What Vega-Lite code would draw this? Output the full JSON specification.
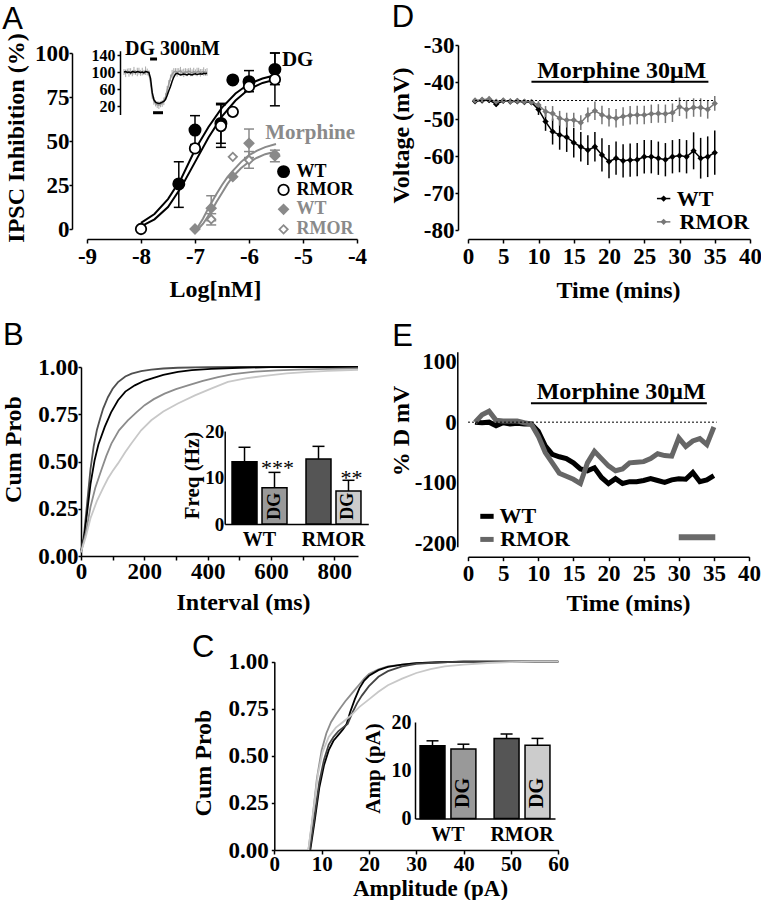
{
"$schema": "https://vega.github.io/schema/vega-lite/v6.json",
"width": 761, "height": 900, "autosize": "none", "padding": 0, "background": "white",
"config": {
 "view": {"stroke": null},
 "axis": {"grid": false, "domainColor": "#000", "domainWidth": 1.5, "tickColor": "#000", "tickWidth": 1.5, "tickSize": 4, "labelColor": "#000", "titleColor": "#000", "labelFont": "Liberation Serif", "labelFontWeight": "bold", "labelFontSize": 23, "titleFont": "Liberation Serif", "titleFontWeight": "bold", "titleFontSize": 24, "labelFlush": false, "labelOverlap": false, "labelPadding": 2, "titleBaseline": "middle", "titleAlign": "center"},
 "text": {"font": "Liberation Serif", "fontWeight": "bold", "fontSize": 22, "color": "#000"}
},
"datasets": {
 "letters": [{"panel":"A","x":-10.57,"y":113.6},{"panel":"D","x":-10.8,"y":-25.1},{"panel":"B","x":-246,"y":1.115},{"panel":"E","x":-10.8,"y":124.6},{"panel":"C","x":-17.4,"y":1.025}],
 "aFit": [
  {"x":-8,"y":3.5,"curve":"WTdg"},{"x":-7.75,"y":8.5,"curve":"WTdg"},{"x":-7.5,"y":17,"curve":"WTdg"},{"x":-7.25,"y":29,"curve":"WTdg"},{"x":-7,"y":45,"curve":"WTdg"},{"x":-6.75,"y":58,"curve":"WTdg"},{"x":-6.5,"y":69,"curve":"WTdg"},{"x":-6.25,"y":77,"curve":"WTdg"},{"x":-6,"y":82.5,"curve":"WTdg"},{"x":-5.75,"y":85.5,"curve":"WTdg"},{"x":-5.5,"y":87.5,"curve":"WTdg"},
  {"x":-8,"y":1.5,"curve":"RMORdg"},{"x":-7.75,"y":5.5,"curve":"RMORdg"},{"x":-7.5,"y":12.5,"curve":"RMORdg"},{"x":-7.25,"y":24,"curve":"RMORdg"},{"x":-7,"y":38,"curve":"RMORdg"},{"x":-6.75,"y":52,"curve":"RMORdg"},{"x":-6.5,"y":64,"curve":"RMORdg"},{"x":-6.25,"y":73,"curve":"RMORdg"},{"x":-6,"y":79.5,"curve":"RMORdg"},{"x":-5.75,"y":83,"curve":"RMORdg"},{"x":-5.5,"y":85,"curve":"RMORdg"},
  {"x":-6.97,"y":0,"curve":"WTmo"},{"x":-6.85,"y":6,"curve":"WTmo"},{"x":-6.75,"y":12,"curve":"WTmo"},{"x":-6.6,"y":20,"curve":"WTmo"},{"x":-6.5,"y":25,"curve":"WTmo"},{"x":-6.4,"y":29.5,"curve":"WTmo"},{"x":-6.3,"y":33,"curve":"WTmo"},{"x":-6.15,"y":38,"curve":"WTmo"},{"x":-6,"y":42,"curve":"WTmo"},{"x":-5.85,"y":44.5,"curve":"WTmo"},{"x":-5.7,"y":46.5,"curve":"WTmo"},{"x":-5.5,"y":48.3,"curve":"WTmo"},
  {"x":-6.97,"y":-1,"curve":"RMORmo"},{"x":-6.85,"y":3,"curve":"RMORmo"},{"x":-6.72,"y":9,"curve":"RMORmo"},{"x":-6.6,"y":15.5,"curve":"RMORmo"},{"x":-6.5,"y":20.5,"curve":"RMORmo"},{"x":-6.4,"y":25.5,"curve":"RMORmo"},{"x":-6.3,"y":29.7,"curve":"RMORmo"},{"x":-6.15,"y":34.5,"curve":"RMORmo"},{"x":-6,"y":38.2,"curve":"RMORmo"},{"x":-5.85,"y":40.5,"curve":"RMORmo"},{"x":-5.7,"y":42.5,"curve":"RMORmo"},{"x":-5.5,"y":44,"curve":"RMORmo"}
 ],
 "aPts": [
  {"x":-7.3,"y":25.6,"grp":"WTdg"},{"x":-7,"y":56.2,"grp":"WTdg"},{"x":-6.52,"y":60,"grp":"WTdg"},{"x":-6.3,"y":84.7,"grp":"WTdg"},{"x":-6,"y":83.7,"grp":"WTdg"},{"x":-5.52,"y":90.7,"grp":"WTdg"},{"x":-5.36,"y":32.6,"grp":"WTdg"},
  {"x":-8,"y":0,"grp":"RMORdg"},{"x":-7,"y":45.8,"grp":"RMORdg"},{"x":-6.52,"y":58.5,"grp":"RMORdg"},{"x":-6.3,"y":66.6,"grp":"RMORdg"},{"x":-6,"y":80.9,"grp":"RMORdg"},{"x":-5.52,"y":85,"grp":"RMORdg"},{"x":-5.36,"y":22.2,"grp":"RMORdg"},
  {"x":-7,"y":0,"grp":"WTmo"},{"x":-6.7,"y":11.8,"grp":"WTmo"},{"x":-6.3,"y":29.7,"grp":"WTmo"},{"x":-6,"y":48.7,"grp":"WTmo"},{"x":-5.52,"y":41.5,"grp":"WTmo"},{"x":-5.36,"y":11.2,"grp":"WTmo"},
  {"x":-6.7,"y":5.5,"grp":"RMORmo"},{"x":-6.3,"y":41,"grp":"RMORmo"},{"x":-6,"y":39.2,"grp":"RMORmo"},{"x":-5.52,"y":42.5,"grp":"RMORmo"},{"x":-5.36,"y":-0.2,"grp":"RMORmo"}
 ],
 "aErr": [
  {"x":-7.3,"lo":12.3,"hi":38.2,"grp":"WTdg"},{"x":-7,"lo":48,"hi":64.4,"grp":"WTdg"},{"x":-6.52,"lo":48.7,"hi":71.4,"grp":"WTdg"},{"x":-6.52,"lo":46.4,"hi":70.6,"grp":"RMORdg"},{"x":-6,"lo":78,"hi":90,"grp":"WTdg"},{"x":-5.52,"lo":82,"hi":100,"grp":"WTdg"},{"x":-5.52,"lo":70,"hi":100,"grp":"RMORdg"},
  {"x":-6.7,"lo":4.7,"hi":18.9,"grp":"WTmo"},{"x":-6.7,"lo":2.3,"hi":8.7,"grp":"RMORmo"},{"x":-6,"lo":40.6,"hi":56.8,"grp":"WTmo"},{"x":-6,"lo":34.5,"hi":44,"grp":"RMORmo"},{"x":-5.52,"lo":38.2,"hi":44.8,"grp":"WTmo"}
 ],
 "aTxt": [
  {"x":-5.39,"y":96,"t":"DG","grp":"WTdg","kind":"lab"},{"x":-5.7,"y":54.5,"t":"Morphine","grp":"WTmo","kind":"lab"},{"x":-5.12,"y":32.6,"t":"WT","grp":"WTdg","kind":"leg"},{"x":-5.12,"y":22.2,"t":"RMOR","grp":"RMORdg","kind":"leg"},{"x":-5.12,"y":11.2,"t":"WT","grp":"WTmo","kind":"leg"},{"x":-5.12,"y":-0.2,"t":"RMOR","grp":"RMORmo","kind":"leg"}
 ],
 "aTrace": [
  {"t":0,"v":100,"e":7,"s":"g"},{"t":1,"v":97,"e":9,"s":"g"},{"t":2,"v":102,"e":6,"s":"g"},{"t":3,"v":99,"e":10,"s":"g"},{"t":4,"v":101,"e":8,"s":"g"},{"t":5,"v":97,"e":7,"s":"g"},{"t":6,"v":103,"e":9,"s":"g"},{"t":7,"v":99,"e":6,"s":"g"},{"t":8,"v":100,"e":10,"s":"g"},{"t":9,"v":102,"e":8,"s":"g"},{"t":10,"v":98,"e":7,"s":"g"},{"t":11,"v":101,"e":9,"s":"g"},{"t":12,"v":99,"e":6,"s":"g"},{"t":13,"v":103,"e":10,"s":"g"},{"t":14,"v":100,"e":8,"s":"g"},{"t":15,"v":97,"e":7,"s":"g"},{"t":16,"v":75,"e":9,"s":"g"},{"t":17,"v":45,"e":8,"s":"g"},{"t":18,"v":32,"e":9,"s":"g"},{"t":19,"v":26,"e":7,"s":"g"},{"t":20,"v":23,"e":8,"s":"g"},{"t":21,"v":22,"e":9,"s":"g"},{"t":22,"v":24,"e":7,"s":"g"},{"t":23,"v":26,"e":8,"s":"g"},{"t":24,"v":31,"e":9,"s":"g"},{"t":25,"v":42,"e":8,"s":"g"},{"t":26,"v":57,"e":10,"s":"g"},{"t":27,"v":72,"e":9,"s":"g"},{"t":28,"v":86,"e":8,"s":"g"},{"t":29,"v":95,"e":10,"s":"g"},{"t":30,"v":100,"e":9,"s":"g"},{"t":31,"v":102,"e":7,"s":"g"},{"t":32,"v":99,"e":10,"s":"g"},{"t":33,"v":101,"e":8,"s":"g"},{"t":34,"v":103,"e":9,"s":"g"},{"t":35,"v":99,"e":7,"s":"g"},{"t":36,"v":98,"e":10,"s":"g"},{"t":37,"v":101,"e":8,"s":"g"},{"t":38,"v":99,"e":9,"s":"g"},{"t":39,"v":102,"e":7,"s":"g"},{"t":40,"v":100,"e":10,"s":"g"},{"t":41,"v":98,"e":8,"s":"g"},{"t":42,"v":101,"e":9,"s":"g"},{"t":43,"v":99,"e":7,"s":"g"},{"t":44,"v":100,"e":10,"s":"g"},{"t":45,"v":102,"e":8,"s":"g"},{"t":46,"v":98,"e":9,"s":"g"},{"t":47,"v":100,"e":7,"s":"g"},{"t":48,"v":101,"e":10,"s":"g"},{"t":49,"v":99,"e":8,"s":"g"},{"t":50,"v":100,"e":9,"s":"g"},
  {"t":0,"v":100,"e":0,"s":"k"},{"t":1,"v":101,"e":0,"s":"k"},{"t":2,"v":99,"e":0,"s":"k"},{"t":3,"v":100,"e":0,"s":"k"},{"t":4,"v":98,"e":0,"s":"k"},{"t":5,"v":101,"e":0,"s":"k"},{"t":6,"v":100,"e":0,"s":"k"},{"t":7,"v":99,"e":0,"s":"k"},{"t":8,"v":101,"e":0,"s":"k"},{"t":9,"v":100,"e":0,"s":"k"},{"t":10,"v":99,"e":0,"s":"k"},{"t":11,"v":100,"e":0,"s":"k"},{"t":12,"v":98,"e":0,"s":"k"},{"t":13,"v":101,"e":0,"s":"k"},{"t":14,"v":100,"e":0,"s":"k"},{"t":15,"v":99,"e":0,"s":"k"},{"t":16,"v":85,"e":0,"s":"k"},{"t":17,"v":52,"e":0,"s":"k"},{"t":18,"v":35,"e":0,"s":"k"},{"t":19,"v":29,"e":0,"s":"k"},{"t":20,"v":27,"e":0,"s":"k"},{"t":21,"v":26,"e":0,"s":"k"},{"t":22,"v":27,"e":0,"s":"k"},{"t":23,"v":29,"e":0,"s":"k"},{"t":24,"v":31,"e":0,"s":"k"},{"t":25,"v":35,"e":0,"s":"k"},{"t":26,"v":45,"e":0,"s":"k"},{"t":27,"v":56,"e":0,"s":"k"},{"t":28,"v":66,"e":0,"s":"k"},{"t":29,"v":78,"e":0,"s":"k"},{"t":30,"v":88,"e":0,"s":"k"},{"t":31,"v":95,"e":0,"s":"k"},{"t":32,"v":97,"e":0,"s":"k"},{"t":33,"v":95,"e":0,"s":"k"},{"t":34,"v":93,"e":0,"s":"k"},{"t":35,"v":94,"e":0,"s":"k"},{"t":36,"v":95,"e":0,"s":"k"},{"t":37,"v":94,"e":0,"s":"k"},{"t":38,"v":93,"e":0,"s":"k"},{"t":39,"v":95,"e":0,"s":"k"},{"t":40,"v":94,"e":0,"s":"k"},{"t":41,"v":93,"e":0,"s":"k"},{"t":42,"v":95,"e":0,"s":"k"},{"t":43,"v":96,"e":0,"s":"k"},{"t":44,"v":94,"e":0,"s":"k"},{"t":45,"v":95,"e":0,"s":"k"},{"t":46,"v":96,"e":0,"s":"k"},{"t":47,"v":95,"e":0,"s":"k"},{"t":48,"v":97,"e":0,"s":"k"},{"t":49,"v":96,"e":0,"s":"k"},{"t":50,"v":97,"e":0,"s":"k"}
 ],
 "aBars": [{"x1":15.7,"x2":19.9,"y":130.6},{"x1":17.5,"x2":23.5,"y":4.2}],
 "aInTxt": [{"x":0.6,"y":154,"t":"DG 300nM"}],
 "dPts": [
  {"t":1,"v":-45.2,"e":0.5,"s":"WT"},{"t":2,"v":-45,"e":0.5,"s":"WT"},{"t":3,"v":-44.9,"e":0.6,"s":"WT"},{"t":4,"v":-46,"e":0.6,"s":"WT"},{"t":5,"v":-45.1,"e":0.5,"s":"WT"},{"t":6,"v":-45.3,"e":0.5,"s":"WT"},{"t":7,"v":-45.2,"e":0.5,"s":"WT"},{"t":8,"v":-45.4,"e":0.5,"s":"WT"},{"t":9,"v":-45.5,"e":0.6,"s":"WT"},{"t":10,"v":-47.4,"e":1.5,"s":"WT"},{"t":11,"v":-50.7,"e":2.5,"s":"WT"},{"t":12,"v":-53.4,"e":3.5,"s":"WT"},{"t":13,"v":-54.3,"e":4,"s":"WT"},{"t":14,"v":-54.9,"e":4,"s":"WT"},{"t":15,"v":-56.4,"e":4,"s":"WT"},{"t":16,"v":-57.5,"e":4,"s":"WT"},{"t":17,"v":-58.4,"e":4,"s":"WT"},{"t":18,"v":-57.5,"e":4,"s":"WT"},{"t":19,"v":-59.7,"e":4.5,"s":"WT"},{"t":20,"v":-61.5,"e":4.5,"s":"WT"},{"t":21,"v":-60.6,"e":4.5,"s":"WT"},{"t":22,"v":-61.3,"e":4.5,"s":"WT"},{"t":23,"v":-61.1,"e":4.5,"s":"WT"},{"t":24,"v":-61,"e":4.5,"s":"WT"},{"t":25,"v":-60.2,"e":4.5,"s":"WT"},{"t":26,"v":-60.2,"e":4.5,"s":"WT"},{"t":27,"v":-60.6,"e":4.5,"s":"WT"},{"t":28,"v":-61,"e":4.5,"s":"WT"},{"t":29,"v":-60.2,"e":4.5,"s":"WT"},{"t":30,"v":-59.9,"e":4.5,"s":"WT"},{"t":31,"v":-60.2,"e":4.5,"s":"WT"},{"t":32,"v":-58.6,"e":5,"s":"WT"},{"t":33,"v":-60.6,"e":5.5,"s":"WT"},{"t":34,"v":-60.2,"e":5.5,"s":"WT"},{"t":35,"v":-59.1,"e":6,"s":"WT"},
  {"t":1,"v":-45,"e":0.5,"s":"RMOR"},{"t":2,"v":-44.8,"e":0.5,"s":"RMOR"},{"t":3,"v":-44.6,"e":0.6,"s":"RMOR"},{"t":4,"v":-45.3,"e":0.5,"s":"RMOR"},{"t":5,"v":-45,"e":0.5,"s":"RMOR"},{"t":6,"v":-45.2,"e":0.5,"s":"RMOR"},{"t":7,"v":-45.1,"e":0.5,"s":"RMOR"},{"t":8,"v":-45.3,"e":0.5,"s":"RMOR"},{"t":9,"v":-45.4,"e":0.5,"s":"RMOR"},{"t":10,"v":-46.2,"e":1,"s":"RMOR"},{"t":11,"v":-48,"e":1.5,"s":"RMOR"},{"t":12,"v":-48.5,"e":2,"s":"RMOR"},{"t":13,"v":-49.8,"e":2,"s":"RMOR"},{"t":14,"v":-50.3,"e":2,"s":"RMOR"},{"t":15,"v":-50.3,"e":2,"s":"RMOR"},{"t":16,"v":-51,"e":2,"s":"RMOR"},{"t":17,"v":-48.9,"e":2,"s":"RMOR"},{"t":18,"v":-47.8,"e":2.5,"s":"RMOR"},{"t":19,"v":-48.9,"e":2.5,"s":"RMOR"},{"t":20,"v":-49.5,"e":2.5,"s":"RMOR"},{"t":21,"v":-49.8,"e":2.5,"s":"RMOR"},{"t":22,"v":-49.3,"e":2.5,"s":"RMOR"},{"t":23,"v":-49,"e":2.5,"s":"RMOR"},{"t":24,"v":-48.9,"e":2.5,"s":"RMOR"},{"t":25,"v":-48.9,"e":2.5,"s":"RMOR"},{"t":26,"v":-48.6,"e":2.5,"s":"RMOR"},{"t":27,"v":-48.5,"e":2.5,"s":"RMOR"},{"t":28,"v":-48.6,"e":2.5,"s":"RMOR"},{"t":29,"v":-48.3,"e":2.5,"s":"RMOR"},{"t":30,"v":-46.7,"e":2.5,"s":"RMOR"},{"t":31,"v":-47.4,"e":2.5,"s":"RMOR"},{"t":32,"v":-46.9,"e":2.5,"s":"RMOR"},{"t":33,"v":-46.9,"e":2.5,"s":"RMOR"},{"t":34,"v":-47.4,"e":2.5,"s":"RMOR"},{"t":35,"v":-45.8,"e":2,"s":"RMOR"}
 ],
 "dRules": [{"x1":1,"x2":35,"y":-45,"k":"dot"},{"x1":9.0,"x2":34.1,"y":-39.9,"k":"bar"}],
 "dTxt": [{"x":21.8,"y":-37.0,"t":"Morphine 30μM"}],
 "dLeg": [{"x1":26.8,"x2":28.7,"xm":27.75,"xt":29.6,"y":-71.5,"s":"WT"},{"x1":26.8,"x2":28.7,"xm":27.75,"xt":30.0,"y":-77.8,"s":"RMOR"}],
 "bCdf": [
  {"x":0,"p":0.02,"c":"b1"},{"x":10,"p":0.12,"c":"b1"},{"x":20,"p":0.29,"c":"b1"},{"x":30,"p":0.46,"c":"b1"},{"x":40,"p":0.58,"c":"b1"},{"x":50,"p":0.665,"c":"b1"},{"x":60,"p":0.725,"c":"b1"},{"x":70,"p":0.78,"c":"b1"},{"x":85,"p":0.84,"c":"b1"},{"x":100,"p":0.885,"c":"b1"},{"x":117,"p":0.92,"c":"b1"},{"x":140,"p":0.95,"c":"b1"},{"x":160,"p":0.965,"c":"b1"},{"x":190,"p":0.978,"c":"b1"},{"x":222,"p":0.986,"c":"b1"},{"x":260,"p":0.992,"c":"b1"},{"x":306,"p":0.996,"c":"b1"},{"x":400,"p":0.999,"c":"b1"},{"x":500,"p":1,"c":"b1"},{"x":875,"p":1,"c":"b1"},
  {"x":0,"p":0.02,"c":"b2"},{"x":10,"p":0.1,"c":"b2"},{"x":20,"p":0.24,"c":"b2"},{"x":30,"p":0.38,"c":"b2"},{"x":43,"p":0.507,"c":"b2"},{"x":55,"p":0.59,"c":"b2"},{"x":75,"p":0.683,"c":"b2"},{"x":95,"p":0.76,"c":"b2"},{"x":117,"p":0.824,"c":"b2"},{"x":140,"p":0.87,"c":"b2"},{"x":170,"p":0.903,"c":"b2"},{"x":200,"p":0.927,"c":"b2"},{"x":222,"p":0.939,"c":"b2"},{"x":260,"p":0.958,"c":"b2"},{"x":306,"p":0.974,"c":"b2"},{"x":350,"p":0.983,"c":"b2"},{"x":411,"p":0.99,"c":"b2"},{"x":500,"p":0.996,"c":"b2"},{"x":600,"p":0.999,"c":"b2"},{"x":700,"p":1,"c":"b2"},{"x":875,"p":1,"c":"b2"},
  {"x":0,"p":0.02,"c":"b3"},{"x":15,"p":0.12,"c":"b3"},{"x":30,"p":0.26,"c":"b3"},{"x":45,"p":0.36,"c":"b3"},{"x":64,"p":0.454,"c":"b3"},{"x":80,"p":0.53,"c":"b3"},{"x":96,"p":0.595,"c":"b3"},{"x":120,"p":0.665,"c":"b3"},{"x":148,"p":0.718,"c":"b3"},{"x":175,"p":0.76,"c":"b3"},{"x":201,"p":0.798,"c":"b3"},{"x":230,"p":0.83,"c":"b3"},{"x":264,"p":0.859,"c":"b3"},{"x":300,"p":0.883,"c":"b3"},{"x":338,"p":0.903,"c":"b3"},{"x":385,"p":0.927,"c":"b3"},{"x":433,"p":0.947,"c":"b3"},{"x":480,"p":0.962,"c":"b3"},{"x":550,"p":0.975,"c":"b3"},{"x":620,"p":0.982,"c":"b3"},{"x":684,"p":0.986,"c":"b3"},{"x":780,"p":0.99,"c":"b3"},{"x":875,"p":0.993,"c":"b3"},
  {"x":0,"p":0.02,"c":"b4"},{"x":15,"p":0.1,"c":"b4"},{"x":30,"p":0.2,"c":"b4"},{"x":50,"p":0.29,"c":"b4"},{"x":70,"p":0.36,"c":"b4"},{"x":85,"p":0.41,"c":"b4"},{"x":100,"p":0.45,"c":"b4"},{"x":117,"p":0.49,"c":"b4"},{"x":140,"p":0.55,"c":"b4"},{"x":159,"p":0.595,"c":"b4"},{"x":190,"p":0.665,"c":"b4"},{"x":222,"p":0.718,"c":"b4"},{"x":260,"p":0.765,"c":"b4"},{"x":306,"p":0.807,"c":"b4"},{"x":360,"p":0.85,"c":"b4"},{"x":411,"p":0.886,"c":"b4"},{"x":464,"p":0.921,"c":"b4"},{"x":520,"p":0.94,"c":"b4"},{"x":580,"p":0.953,"c":"b4"},{"x":650,"p":0.966,"c":"b4"},{"x":720,"p":0.974,"c":"b4"},{"x":780,"p":0.979,"c":"b4"},{"x":875,"p":0.985,"c":"b4"}
 ],
 "bBar": [{"g":"WT","tr":"Ctrl","k":"WT","v":13.4,"hi":16.5},{"g":"WT","tr":"DG","k":"WT DG","v":7.8,"hi":11.1},{"g":"RMOR","tr":"Ctrl","k":"RMOR","v":14.0,"hi":16.7},{"g":"RMOR","tr":"DG","k":"RMOR DG","v":7.1,"hi":9.4}],
 "bTxt": [{"g":"WT","tr":"DG","y":12.0,"t":"***","kind":"star"},{"g":"RMOR","tr":"DG","y":9.9,"t":"**","kind":"star"},{"g":"WT","tr":"DG","y":3.8,"t":"DG","kind":"dg"},{"g":"RMOR","tr":"DG","y":3.8,"t":"DG","kind":"dg"}],
 "ePts": [
  {"t":1,"v":0,"s":"WT"},{"t":2,"v":-1,"s":"WT"},{"t":3,"v":0,"s":"WT"},{"t":4,"v":-6,"s":"WT"},{"t":5,"v":-1,"s":"WT"},{"t":6,"v":-3,"s":"WT"},{"t":7,"v":-2,"s":"WT"},{"t":8,"v":-3,"s":"WT"},{"t":9,"v":-3,"s":"WT"},{"t":10,"v":-15,"s":"WT"},{"t":11,"v":-39,"s":"WT"},{"t":12,"v":-53,"s":"WT"},{"t":13,"v":-57,"s":"WT"},{"t":14,"v":-60,"s":"WT"},{"t":15,"v":-67,"s":"WT"},{"t":16,"v":-77,"s":"WT"},{"t":17,"v":-80,"s":"WT"},{"t":18,"v":-75,"s":"WT"},{"t":19,"v":-91,"s":"WT"},{"t":20,"v":-101,"s":"WT"},{"t":21,"v":-93,"s":"WT"},{"t":22,"v":-101,"s":"WT"},{"t":23,"v":-98,"s":"WT"},{"t":24,"v":-98,"s":"WT"},{"t":25,"v":-96,"s":"WT"},{"t":26,"v":-93,"s":"WT"},{"t":27,"v":-96,"s":"WT"},{"t":28,"v":-99,"s":"WT"},{"t":29,"v":-95,"s":"WT"},{"t":30,"v":-93,"s":"WT"},{"t":31,"v":-94,"s":"WT"},{"t":32,"v":-83,"s":"WT"},{"t":33,"v":-98,"s":"WT"},{"t":34,"v":-95,"s":"WT"},{"t":35,"v":-88,"s":"WT"},
  {"t":1,"v":0,"s":"RMOR"},{"t":2,"v":12,"s":"RMOR"},{"t":3,"v":18,"s":"RMOR"},{"t":4,"v":3,"s":"RMOR"},{"t":5,"v":2,"s":"RMOR"},{"t":6,"v":2,"s":"RMOR"},{"t":7,"v":2,"s":"RMOR"},{"t":8,"v":-1,"s":"RMOR"},{"t":9,"v":-3,"s":"RMOR"},{"t":10,"v":-23,"s":"RMOR"},{"t":11,"v":-50,"s":"RMOR"},{"t":12,"v":-67,"s":"RMOR"},{"t":13,"v":-84,"s":"RMOR"},{"t":14,"v":-89,"s":"RMOR"},{"t":15,"v":-94,"s":"RMOR"},{"t":16,"v":-101,"s":"RMOR"},{"t":17,"v":-67,"s":"RMOR"},{"t":18,"v":-48,"s":"RMOR"},{"t":19,"v":-60,"s":"RMOR"},{"t":20,"v":-72,"s":"RMOR"},{"t":21,"v":-80,"s":"RMOR"},{"t":22,"v":-77,"s":"RMOR"},{"t":23,"v":-67,"s":"RMOR"},{"t":24,"v":-66,"s":"RMOR"},{"t":25,"v":-65,"s":"RMOR"},{"t":26,"v":-60,"s":"RMOR"},{"t":27,"v":-52,"s":"RMOR"},{"t":28,"v":-55,"s":"RMOR"},{"t":29,"v":-56,"s":"RMOR"},{"t":30,"v":-26,"s":"RMOR"},{"t":31,"v":-40,"s":"RMOR"},{"t":32,"v":-31,"s":"RMOR"},{"t":33,"v":-27,"s":"RMOR"},{"t":34,"v":-37,"s":"RMOR"},{"t":35,"v":-8,"s":"RMOR"}
 ],
 "eRules": [{"x1":0,"x2":35.4,"y":0,"k":"dot"},{"x1":8.96,"x2":34.0,"y":31.1,"k":"bar"},{"x1":30,"x2":35.2,"y":-189.5,"k":"gray"}],
 "eTxt": [{"x":21.8,"y":50.2,"t":"Morphine 30μM"}],
 "eLeg": [{"x1":1.75,"x2":3.65,"xt":4.5,"y":-155,"s":"WT"},{"x1":1.75,"x2":3.65,"xt":4.6,"y":-193,"s":"RMOR"}],
 "cCdf": [
  {"x":7.2,"p":0,"c":"c1"},{"x":8,"p":0.15,"c":"c1"},{"x":9,"p":0.38,"c":"c1"},{"x":10,"p":0.53,"c":"c1"},{"x":11,"p":0.62,"c":"c1"},{"x":12,"p":0.68,"c":"c1"},{"x":13,"p":0.72,"c":"c1"},{"x":14,"p":0.755,"c":"c1"},{"x":15,"p":0.79,"c":"c1"},{"x":16,"p":0.82,"c":"c1"},{"x":17,"p":0.85,"c":"c1"},{"x":18,"p":0.88,"c":"c1"},{"x":19,"p":0.91,"c":"c1"},{"x":20,"p":0.935,"c":"c1"},{"x":22,"p":0.96,"c":"c1"},{"x":24,"p":0.975,"c":"c1"},{"x":27,"p":0.985,"c":"c1"},{"x":30,"p":0.992,"c":"c1"},{"x":35,"p":0.997,"c":"c1"},{"x":40,"p":1,"c":"c1"},{"x":60,"p":1,"c":"c1"},
  {"x":7.6,"p":0,"c":"c2"},{"x":8.5,"p":0.15,"c":"c2"},{"x":9.5,"p":0.33,"c":"c2"},{"x":10.5,"p":0.45,"c":"c2"},{"x":11.5,"p":0.53,"c":"c2"},{"x":12.5,"p":0.58,"c":"c2"},{"x":13.5,"p":0.61,"c":"c2"},{"x":14.5,"p":0.64,"c":"c2"},{"x":15.3,"p":0.67,"c":"c2"},{"x":16,"p":0.73,"c":"c2"},{"x":17,"p":0.8,"c":"c2"},{"x":18,"p":0.86,"c":"c2"},{"x":19,"p":0.9,"c":"c2"},{"x":20,"p":0.925,"c":"c2"},{"x":22,"p":0.955,"c":"c2"},{"x":24,"p":0.972,"c":"c2"},{"x":27,"p":0.985,"c":"c2"},{"x":30,"p":0.992,"c":"c2"},{"x":35,"p":0.997,"c":"c2"},{"x":40,"p":1,"c":"c2"},{"x":60,"p":1,"c":"c2"},
  {"x":7.5,"p":0,"c":"c3"},{"x":8.5,"p":0.18,"c":"c3"},{"x":9.5,"p":0.36,"c":"c3"},{"x":10.5,"p":0.48,"c":"c3"},{"x":11.5,"p":0.56,"c":"c3"},{"x":12.5,"p":0.6,"c":"c3"},{"x":13.5,"p":0.63,"c":"c3"},{"x":14.5,"p":0.65,"c":"c3"},{"x":15.5,"p":0.67,"c":"c3"},{"x":16.5,"p":0.73,"c":"c3"},{"x":17.5,"p":0.78,"c":"c3"},{"x":18.5,"p":0.82,"c":"c3"},{"x":20,"p":0.87,"c":"c3"},{"x":22,"p":0.92,"c":"c3"},{"x":24,"p":0.95,"c":"c3"},{"x":27,"p":0.975,"c":"c3"},{"x":30,"p":0.988,"c":"c3"},{"x":35,"p":0.996,"c":"c3"},{"x":40,"p":1,"c":"c3"},{"x":60,"p":1,"c":"c3"},
  {"x":7.2,"p":0,"c":"c4"},{"x":8.2,"p":0.2,"c":"c4"},{"x":9.2,"p":0.4,"c":"c4"},{"x":10.2,"p":0.52,"c":"c4"},{"x":11.5,"p":0.6,"c":"c4"},{"x":13,"p":0.65,"c":"c4"},{"x":14.5,"p":0.68,"c":"c4"},{"x":16,"p":0.71,"c":"c4"},{"x":18,"p":0.76,"c":"c4"},{"x":20,"p":0.8,"c":"c4"},{"x":22,"p":0.84,"c":"c4"},{"x":24,"p":0.875,"c":"c4"},{"x":27,"p":0.91,"c":"c4"},{"x":30,"p":0.94,"c":"c4"},{"x":33,"p":0.96,"c":"c4"},{"x":36,"p":0.975,"c":"c4"},{"x":40,"p":0.985,"c":"c4"},{"x":45,"p":0.993,"c":"c4"},{"x":50,"p":0.998,"c":"c4"},{"x":55,"p":1,"c":"c4"},{"x":60,"p":1,"c":"c4"}
 ],
 "cBar": [{"g":"WT","tr":"Ctrl","k":"WT","v":15.1,"hi":16.1},{"g":"WT","tr":"DG","k":"WT DG","v":14.4,"hi":15.4},{"g":"RMOR","tr":"Ctrl","k":"RMOR","v":16.6,"hi":17.5},{"g":"RMOR","tr":"DG","k":"RMOR DG","v":15.2,"hi":16.6}],
 "cTxt": [{"g":"WT","tr":"DG","y":5.3,"t":"DG"},{"g":"RMOR","tr":"DG","y":5.3,"t":"DG"}]
},
"resolve": {"scale": {"x": "independent", "y": "independent", "color": "independent", "xOffset": "independent"}},
"layer": [
 {"layer": [
  {"data": {"name": "aFit"}, "mark": {"type": "line", "strokeWidth": 2},
   "encoding": {
    "x": {"field": "x", "type": "quantitative", "scale": {"domain": [-9, -4], "range": [87, 357], "nice": false, "zero": false},
          "axis": {"orient": "bottom", "offset": -661, "values": [-9, -8, -7, -6, -5, -4], "format": "d", "labelExpr": "replace(datum.label, '\u2212', '-')", "title": "Log[nM]", "titleX": 215, "titleY": 50}},
    "y": {"field": "y", "type": "quantitative", "scale": {"domain": [0, 100], "range": [229, 53], "nice": false, "zero": false},
          "axis": {"orient": "left", "offset": -72, "values": [0, 25, 50, 75, 100], "title": "IPSC Inhibition (%)", "titleX": -55.5, "titleY": 137.5, "tickSize": 3, "labelPadding": 0}},
    "color": {"field": "curve", "type": "nominal", "scale": {"domain": ["WTdg", "RMORdg", "WTmo", "RMORmo"], "range": ["#000000", "#000000", "#8a8a8a", "#8a8a8a"]}, "legend": null}
   }},
  {"data": {"name": "aErr"}, "mark": {"type": "rule", "strokeWidth": 1.5},
   "encoding": {"x": {"field": "x", "type": "quantitative"}, "y": {"field": "lo", "type": "quantitative"}, "y2": {"field": "hi"}, "color": {"field": "grp", "type": "nominal", "legend": null}}},
  {"data": {"name": "aErr"}, "mark": {"type": "tick", "orient": "horizontal", "size": 10, "thickness": 1.5, "opacity": 1},
   "encoding": {"x": {"field": "x", "type": "quantitative"}, "y": {"field": "lo", "type": "quantitative"}, "color": {"field": "grp", "type": "nominal", "legend": null}}},
  {"data": {"name": "aErr"}, "mark": {"type": "tick", "orient": "horizontal", "size": 10, "thickness": 1.5, "opacity": 1},
   "encoding": {"x": {"field": "x", "type": "quantitative"}, "y": {"field": "hi", "type": "quantitative"}, "color": {"field": "grp", "type": "nominal", "legend": null}}},
  {"data": {"name": "aPts"}, "transform": [{"filter": "datum.grp == 'RMORmo'"}], "mark": {"type": "point", "shape": "diamond", "size": 70, "filled": true, "fill": "white", "stroke": "#8a8a8a", "strokeWidth": 1.8, "opacity": 1},
   "encoding": {"x": {"field": "x", "type": "quantitative"}, "y": {"field": "y", "type": "quantitative"}}},
  {"data": {"name": "aPts"}, "transform": [{"filter": "datum.grp == 'WTmo'"}], "mark": {"type": "point", "shape": "diamond", "size": 80, "filled": true, "fill": "#8a8a8a", "stroke": "#8a8a8a", "opacity": 1},
   "encoding": {"x": {"field": "x", "type": "quantitative"}, "y": {"field": "y", "type": "quantitative"}}},
  {"data": {"name": "aPts"}, "transform": [{"filter": "datum.grp == 'WTdg'"}], "mark": {"type": "point", "shape": "circle", "size": 120, "filled": true, "fill": "#000", "stroke": "#000", "opacity": 1},
   "encoding": {"x": {"field": "x", "type": "quantitative"}, "y": {"field": "y", "type": "quantitative"}}},
  {"data": {"name": "aPts"}, "transform": [{"filter": "datum.grp == 'RMORdg'"}], "mark": {"type": "point", "shape": "circle", "size": 110, "filled": true, "fill": "white", "stroke": "#000", "strokeWidth": 1.8, "opacity": 1},
   "encoding": {"x": {"field": "x", "type": "quantitative"}, "y": {"field": "y", "type": "quantitative"}}},
  {"data": {"name": "aTxt"}, "transform": [{"filter": "datum.kind == 'lab'"}], "mark": {"type": "text", "align": "left", "baseline": "middle", "fontSize": 21},
   "encoding": {"x": {"field": "x", "type": "quantitative"}, "y": {"field": "y", "type": "quantitative"}, "text": {"field": "t"}, "color": {"field": "grp", "type": "nominal", "legend": null}}},
  {"data": {"name": "aTxt"}, "transform": [{"filter": "datum.kind == 'leg'"}], "mark": {"type": "text", "align": "left", "baseline": "middle", "fontSize": 18},
   "encoding": {"x": {"field": "x", "type": "quantitative"}, "y": {"field": "y", "type": "quantitative"}, "text": {"field": "t"}, "color": {"field": "grp", "type": "nominal", "legend": null}}},
  {"data": {"name": "letters"}, "transform": [{"filter": "datum.panel == 'A'"}], "mark": {"type": "text", "font": "Liberation Sans", "fontWeight": "normal", "fontSize": 31, "align": "left", "baseline": "alphabetic"},
   "encoding": {"x": {"field": "x", "type": "quantitative"}, "y": {"field": "y", "type": "quantitative"}, "text": {"field": "panel"}}}
 ]},
 {"layer": [
  {"data": {"name": "aTrace"}, "transform": [{"filter": "datum.s == 'g'"}], "mark": {"type": "errorbar", "color": "#aaaaaa", "thickness": 1},
   "encoding": {
    "x": {"field": "t", "type": "quantitative", "scale": {"domain": [0, 50], "range": [124, 207], "nice": false, "zero": false}, "axis": null},
    "y": {"field": "v", "type": "quantitative", "scale": {"domain": [0, 150], "range": [114.5, 50.75], "nice": false, "zero": false},
          "axis": {"orient": "left", "offset": -120, "values": [20, 60, 100, 140], "labelFontSize": 16, "tickSize": 3, "labelPadding": 2, "title": null}},
    "yError": {"field": "e"}}},
  {"data": {"name": "aTrace"}, "transform": [{"filter": "datum.s == 'g'"}], "mark": {"type": "line", "color": "#999999", "strokeWidth": 1.5},
   "encoding": {"x": {"field": "t", "type": "quantitative"}, "y": {"field": "v", "type": "quantitative"}}},
  {"data": {"name": "aTrace"}, "transform": [{"filter": "datum.s == 'k'"}], "mark": {"type": "line", "color": "#000000", "strokeWidth": 1.5},
   "encoding": {"x": {"field": "t", "type": "quantitative"}, "y": {"field": "v", "type": "quantitative"}}},
  {"data": {"name": "aBars"}, "mark": {"type": "rule", "color": "#000", "strokeWidth": 3},
   "encoding": {"x": {"field": "x1", "type": "quantitative"}, "x2": {"field": "x2"}, "y": {"field": "y", "type": "quantitative"}}},
  {"data": {"name": "aInTxt"}, "mark": {"type": "text", "align": "left", "baseline": "middle", "fontSize": 20},
   "encoding": {"x": {"field": "x", "type": "quantitative"}, "y": {"field": "y", "type": "quantitative"}, "text": {"field": "t"}}}
 ]},
 {"layer": [
  {"data": {"name": "dPts"}, "mark": {"type": "line", "strokeWidth": 1.5},
   "encoding": {
    "x": {"field": "t", "type": "quantitative", "scale": {"domain": [0, 40], "range": [468, 750], "nice": false, "zero": false},
          "axis": {"orient": "bottom", "offset": -661, "values": [0, 5, 10, 15, 20, 25, 30, 35, 40], "title": "Time (mins)", "titleX": 618, "titleY": 51}},
    "y": {"field": "v", "type": "quantitative", "scale": {"domain": [-80, -30], "range": [230, 45], "nice": false, "zero": false},
          "axis": {"orient": "left", "offset": -458, "values": [-80, -70, -60, -50, -40, -30], "labelExpr": "replace(datum.label, '\u2212', '-')", "title": "Voltage (mV)", "titleX": -56.3, "titleY": 135, "tickSize": 3, "labelPadding": 1}},
    "color": {"field": "s", "type": "nominal", "scale": {"domain": ["WT", "RMOR"], "range": ["#000000", "#777777"]}, "legend": null}
   }},
  {"data": {"name": "dPts"}, "mark": {"type": "errorbar", "thickness": 1.5},
   "encoding": {"x": {"field": "t", "type": "quantitative"}, "y": {"field": "v", "type": "quantitative", "title": "Voltage (mV)"}, "yError": {"field": "e"}, "color": {"field": "s", "type": "nominal", "legend": null}}},
  {"data": {"name": "dPts"}, "mark": {"type": "point", "shape": "diamond", "size": 40, "filled": true, "opacity": 1},
   "encoding": {"x": {"field": "t", "type": "quantitative"}, "y": {"field": "v", "type": "quantitative"}, "color": {"field": "s", "type": "nominal", "legend": null}}},
  {"data": {"name": "dRules"}, "transform": [{"filter": "datum.k == 'dot'"}], "mark": {"type": "rule", "color": "#000", "strokeWidth": 1, "strokeDash": [2, 2]},
   "encoding": {"x": {"field": "x1", "type": "quantitative"}, "x2": {"field": "x2"}, "y": {"field": "y", "type": "quantitative"}}},
  {"data": {"name": "dRules"}, "transform": [{"filter": "datum.k == 'bar'"}], "mark": {"type": "rule", "color": "#000", "strokeWidth": 2},
   "encoding": {"x": {"field": "x1", "type": "quantitative"}, "x2": {"field": "x2"}, "y": {"field": "y", "type": "quantitative"}}},
  {"data": {"name": "dTxt"}, "mark": {"type": "text", "align": "center", "baseline": "middle", "fontSize": 24},
   "encoding": {"x": {"field": "x", "type": "quantitative"}, "y": {"field": "y", "type": "quantitative"}, "text": {"field": "t"}}},
  {"data": {"name": "dLeg"}, "mark": {"type": "rule", "strokeWidth": 1.5},
   "encoding": {"x": {"field": "x1", "type": "quantitative"}, "x2": {"field": "x2"}, "y": {"field": "y", "type": "quantitative"}, "color": {"field": "s", "type": "nominal", "legend": null}}},
  {"data": {"name": "dLeg"}, "mark": {"type": "point", "shape": "diamond", "size": 40, "filled": true, "opacity": 1},
   "encoding": {"x": {"field": "xm", "type": "quantitative"}, "y": {"field": "y", "type": "quantitative"}, "color": {"field": "s", "type": "nominal", "legend": null}}},
  {"data": {"name": "dLeg"}, "mark": {"type": "text", "align": "left", "baseline": "middle", "fontSize": 22},
   "encoding": {"x": {"field": "xt", "type": "quantitative"}, "y": {"field": "y", "type": "quantitative"}, "text": {"field": "s"}}},
  {"data": {"name": "letters"}, "transform": [{"filter": "datum.panel == 'D'"}], "mark": {"type": "text", "font": "Liberation Sans", "fontWeight": "normal", "fontSize": 31, "align": "left", "baseline": "alphabetic"},
   "encoding": {"x": {"field": "x", "type": "quantitative"}, "y": {"field": "y", "type": "quantitative"}, "text": {"field": "panel"}}}
 ]},
 {"layer": [
  {"data": {"name": "bCdf"}, "mark": {"type": "line", "strokeWidth": 1.8},
   "encoding": {
    "x": {"field": "x", "type": "quantitative", "scale": {"domain": [0, 875], "range": [81, 358], "nice": false, "zero": false},
          "axis": {"orient": "bottom", "offset": -344, "values": [0, 100, 200, 300, 400, 500, 600, 700, 800], "labelExpr": "datum.value % 200 == 0 ? datum.label : ''", "format": "d", "labelPadding": 0, "title": "Interval (ms)", "titleX": 243, "titleY": 46.5}},
    "y": {"field": "p", "type": "quantitative", "scale": {"domain": [0, 1], "range": [556, 367], "nice": false, "zero": false},
          "axis": {"orient": "left", "offset": -81, "values": [0, 0.25, 0.5, 0.75, 1], "format": ".2f", "title": "Cum Prob", "titleX": -68, "titleY": 449, "tickSize": 3, "labelPadding": 0}},
    "color": {"field": "c", "type": "nominal", "scale": {"domain": ["b1", "b2", "b3", "b4"], "range": ["#505050", "#000000", "#8c8c8c", "#c8c8c8"]}, "legend": null}
   }},
  {"data": {"name": "letters"}, "transform": [{"filter": "datum.panel == 'B'"}], "mark": {"type": "text", "font": "Liberation Sans", "fontWeight": "normal", "fontSize": 31, "align": "left", "baseline": "alphabetic"},
   "encoding": {"x": {"field": "x", "type": "quantitative"}, "y": {"field": "y", "type": "quantitative"}, "text": {"field": "panel"}}}
 ]},
 {"layer": [
  {"data": {"name": "bBar"}, "mark": {"type": "bar", "stroke": "#000", "strokeWidth": 1.5},
   "encoding": {
    "x": {"field": "g", "type": "nominal", "sort": ["WT", "RMOR"], "scale": {"range": [224.7, 368.3], "paddingInner": 0.257, "paddingOuter": 0.099},
          "axis": {"orient": "bottom", "offset": -376, "ticks": false, "labelAngle": 0, "labelFontSize": 20, "labelPadding": 5, "title": null}},
    "xOffset": {"field": "tr", "type": "nominal", "sort": ["Ctrl", "DG"], "scale": {"paddingInner": 0.1667, "paddingOuter": 0}},
    "y": {"field": "v", "type": "quantitative", "scale": {"domain": [0, 20], "range": [524, 431], "nice": false, "zero": false},
          "axis": {"orient": "left", "offset": -224.7, "values": [0, 10, 20], "labelFontSize": 19, "tickSize": 0, "labelPadding": 1, "title": "Freq (Hz)", "titleFontSize": 21, "titleX": -32, "titleY": 475}},
    "color": {"field": "k", "type": "nominal", "scale": {"domain": ["WT", "WT DG", "RMOR", "RMOR DG"], "range": ["#000000", "#999999", "#555555", "#cccccc"]}, "legend": null}
   }},
  {"data": {"name": "bBar"}, "mark": {"type": "rule", "color": "#000", "strokeWidth": 1.5},
   "encoding": {"x": {"field": "g", "type": "nominal", "sort": ["WT", "RMOR"]}, "xOffset": {"field": "tr", "type": "nominal", "sort": ["Ctrl", "DG"]}, "y": {"field": "v", "type": "quantitative"}, "y2": {"field": "hi"}}},
  {"data": {"name": "bBar"}, "mark": {"type": "tick", "orient": "horizontal", "color": "#000", "size": 12, "thickness": 1.5, "opacity": 1},
   "encoding": {"x": {"field": "g", "type": "nominal", "sort": ["WT", "RMOR"]}, "xOffset": {"field": "tr", "type": "nominal", "sort": ["Ctrl", "DG"]}, "y": {"field": "hi", "type": "quantitative"}}},
  {"data": {"name": "bTxt"}, "transform": [{"filter": "datum.kind == 'star'"}], "mark": {"type": "text", "fontWeight": "normal", "fontSize": 22, "align": "center", "baseline": "middle", "dx": 3},
   "encoding": {"x": {"field": "g", "type": "nominal", "sort": ["WT", "RMOR"]}, "xOffset": {"field": "tr", "type": "nominal", "sort": ["Ctrl", "DG"]}, "y": {"field": "y", "type": "quantitative"}, "text": {"field": "t"}}},
  {"data": {"name": "bTxt"}, "transform": [{"filter": "datum.kind == 'dg'"}], "mark": {"type": "text", "fontSize": 18, "angle": 270, "align": "center", "baseline": "middle"},
   "encoding": {"x": {"field": "g", "type": "nominal", "sort": ["WT", "RMOR"]}, "xOffset": {"field": "tr", "type": "nominal", "sort": ["Ctrl", "DG"]}, "y": {"field": "y", "type": "quantitative"}, "text": {"field": "t"}}}
 ]},
 {"layer": [
  {"data": {"name": "ePts"}, "mark": {"type": "line", "strokeWidth": 5},
   "encoding": {
    "x": {"field": "t", "type": "quantitative", "scale": {"domain": [0, 40], "range": [468, 749], "nice": false, "zero": false},
          "axis": {"orient": "bottom", "offset": -343.3, "values": [0, 5, 10, 15, 20, 25, 30, 35, 40], "title": "Time (mins)", "titleX": 628, "titleY": 46.7}},
    "y": {"field": "v", "type": "quantitative", "scale": {"domain": [-205, 116], "range": [546.7, 351.7], "nice": false, "zero": false},
          "axis": {"orient": "left", "offset": -457.3, "values": [-200, -100, 0, 100], "labelExpr": "replace(datum.label, '\u2212', '-')", "title": "% D mV", "titleX": -56.3, "titleY": 430.5, "tickSize": 0, "labelPadding": 1}},
    "color": {"field": "s", "type": "nominal", "scale": {"domain": ["WT", "RMOR"], "range": ["#000000", "#666666"]}, "legend": null}
   }},
  {"data": {"name": "eRules"}, "transform": [{"filter": "datum.k == 'dot'"}], "mark": {"type": "rule", "color": "#000", "strokeWidth": 1, "strokeDash": [2, 2]},
   "encoding": {"x": {"field": "x1", "type": "quantitative"}, "x2": {"field": "x2"}, "y": {"field": "y", "type": "quantitative"}}},
  {"data": {"name": "eRules"}, "transform": [{"filter": "datum.k == 'bar'"}], "mark": {"type": "rule", "color": "#000", "strokeWidth": 2},
   "encoding": {"x": {"field": "x1", "type": "quantitative"}, "x2": {"field": "x2"}, "y": {"field": "y", "type": "quantitative"}}},
  {"data": {"name": "eRules"}, "transform": [{"filter": "datum.k == 'gray'"}], "mark": {"type": "rule", "color": "#6a6a6a", "strokeWidth": 6},
   "encoding": {"x": {"field": "x1", "type": "quantitative"}, "x2": {"field": "x2"}, "y": {"field": "y", "type": "quantitative"}}},
  {"data": {"name": "eTxt"}, "mark": {"type": "text", "align": "center", "baseline": "middle", "fontSize": 24},
   "encoding": {"x": {"field": "x", "type": "quantitative"}, "y": {"field": "y", "type": "quantitative"}, "text": {"field": "t"}}},
  {"data": {"name": "eLeg"}, "mark": {"type": "rule", "strokeWidth": 5},
   "encoding": {"x": {"field": "x1", "type": "quantitative"}, "x2": {"field": "x2"}, "y": {"field": "y", "type": "quantitative"}, "color": {"field": "s", "type": "nominal", "legend": null}}},
  {"data": {"name": "eLeg"}, "mark": {"type": "text", "align": "left", "baseline": "middle", "fontSize": 22},
   "encoding": {"x": {"field": "xt", "type": "quantitative"}, "y": {"field": "y", "type": "quantitative"}, "text": {"field": "s"}}},
  {"data": {"name": "letters"}, "transform": [{"filter": "datum.panel == 'E'"}], "mark": {"type": "text", "font": "Liberation Sans", "fontWeight": "normal", "fontSize": 31, "align": "left", "baseline": "alphabetic"},
   "encoding": {"x": {"field": "x", "type": "quantitative"}, "y": {"field": "y", "type": "quantitative"}, "text": {"field": "panel"}}}
 ]},
 {"layer": [
  {"data": {"name": "cCdf"}, "mark": {"type": "line", "strokeWidth": 1.8},
   "encoding": {
    "x": {"field": "x", "type": "quantitative", "scale": {"domain": [0, 60], "range": [274.3, 558.3], "nice": false, "zero": false},
          "axis": {"orient": "bottom", "offset": -50, "values": [0, 10, 20, 30, 40, 50, 60], "labelFontSize": 21, "labelPadding": -1, "title": "Amplitude (pA)", "titleFontSize": 23, "titleX": 430, "titleY": 38.5}},
    "y": {"field": "p", "type": "quantitative", "scale": {"domain": [0, 1], "range": [850, 661.7], "nice": false, "zero": false},
          "axis": {"orient": "left", "offset": -274.3, "values": [0, 0.25, 0.5, 0.75, 1], "format": ".2f", "title": "Cum Prob", "titleX": -71, "titleY": 762.5, "tickSize": 3, "labelPadding": 3}},
    "color": {"field": "c", "type": "nominal", "scale": {"domain": ["c1", "c2", "c3", "c4"], "range": ["#8c8c8c", "#000000", "#444444", "#c8c8c8"]}, "legend": null}
   }},
  {"data": {"name": "letters"}, "transform": [{"filter": "datum.panel == 'C'"}], "mark": {"type": "text", "font": "Liberation Sans", "fontWeight": "normal", "fontSize": 31, "align": "left", "baseline": "alphabetic"},
   "encoding": {"x": {"field": "x", "type": "quantitative"}, "y": {"field": "y", "type": "quantitative"}, "text": {"field": "panel"}}}
 ]},
 {"layer": [
  {"data": {"name": "cBar"}, "mark": {"type": "bar", "stroke": "#000", "strokeWidth": 1.5},
   "encoding": {
    "x": {"field": "g", "type": "nominal", "sort": ["WT", "RMOR"], "scale": {"range": [415, 555], "paddingInner": 0.246, "paddingOuter": 0.068},
          "axis": {"orient": "bottom", "offset": -81.5, "ticks": false, "labelAngle": 0, "labelFontSize": 20, "labelPadding": 6, "title": null}},
    "xOffset": {"field": "tr", "type": "nominal", "sort": ["Ctrl", "DG"], "scale": {"paddingInner": 0.1935, "paddingOuter": 0}},
    "y": {"field": "v", "type": "quantitative", "scale": {"domain": [0, 20], "range": [818.5, 722], "nice": false, "zero": false},
          "axis": {"orient": "left", "offset": -415, "values": [0, 10, 20], "labelFontSize": 20, "tickSize": 0, "labelPadding": 4, "title": "Amp (pA)", "titleFontSize": 21, "titleX": -41.5, "titleY": 768}},
    "color": {"field": "k", "type": "nominal", "scale": {"domain": ["WT", "WT DG", "RMOR", "RMOR DG"], "range": ["#000000", "#999999", "#555555", "#cccccc"]}, "legend": null}
   }},
  {"data": {"name": "cBar"}, "mark": {"type": "rule", "color": "#000", "strokeWidth": 1.5},
   "encoding": {"x": {"field": "g", "type": "nominal", "sort": ["WT", "RMOR"]}, "xOffset": {"field": "tr", "type": "nominal", "sort": ["Ctrl", "DG"]}, "y": {"field": "v", "type": "quantitative"}, "y2": {"field": "hi"}}},
  {"data": {"name": "cBar"}, "mark": {"type": "tick", "orient": "horizontal", "color": "#000", "size": 12, "thickness": 1.5, "opacity": 1},
   "encoding": {"x": {"field": "g", "type": "nominal", "sort": ["WT", "RMOR"]}, "xOffset": {"field": "tr", "type": "nominal", "sort": ["Ctrl", "DG"]}, "y": {"field": "hi", "type": "quantitative"}}},
  {"data": {"name": "cTxt"}, "mark": {"type": "text", "fontSize": 20, "angle": 270, "align": "center", "baseline": "middle"},
   "encoding": {"x": {"field": "g", "type": "nominal", "sort": ["WT", "RMOR"]}, "xOffset": {"field": "tr", "type": "nominal", "sort": ["Ctrl", "DG"]}, "y": {"field": "y", "type": "quantitative"}, "text": {"field": "t"}}}
 ]}
]
}
